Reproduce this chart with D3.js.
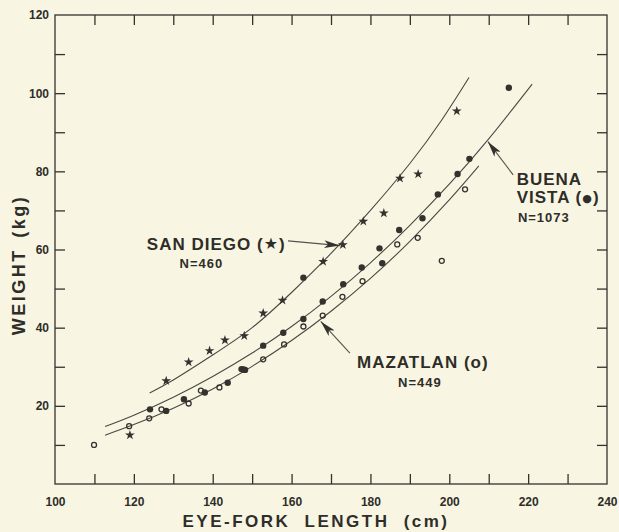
<!DOCTYPE html>
<html>
<head>
<meta charset="utf-8">
<script src="https://cdn.jsdelivr.net/npm/d3@7"></script>
<style>
  body { margin: 0; background: #f8f6e3; }
  svg { display: block; }
  text { font-family: "Liberation Sans", Arial, sans-serif; font-weight: bold; fill: #2f2d29; }
</style>
</head>
<body>
<div id="chart"></div>
<script>
// San Diego (stars)
const sdLength = [119.0, 128.2, 133.9, 139.2, 143.1, 148.0, 152.8, 157.7, 168.0, 173.0, 178.2, 183.4, 187.5, 192.1, 201.9];
const sdWeight = [12.5, 26.4, 31.2, 34.1, 36.8, 37.9, 43.7, 47.0, 56.9, 61.2, 67.2, 69.3, 78.2, 79.3, 95.4];

// Buena Vista (filled circles)
const bvLength = [124.1, 128.2, 132.7, 138.0, 143.8, 147.3, 148.2, 152.8, 157.9, 163.0, 163.0, 167.9, 173.1, 177.8, 182.3, 183.0, 187.3, 193.2, 197.1, 202.1, 205.1, 215.1];
const bvWeight = [19.1, 18.7, 21.7, 23.4, 25.9, 29.4, 29.2, 35.4, 38.7, 42.2, 52.8, 46.7, 51.1, 55.4, 60.3, 56.5, 65.0, 68.0, 74.1, 79.3, 83.2, 101.4];

// Mazatlan (open circles)
const mzLength = [109.9, 118.8, 123.9, 127.0, 133.9, 137.0, 141.7, 147.8, 152.8, 158.1, 163.0, 167.9, 172.9, 178.0, 186.8, 192.0, 198.1, 204.0];
const mzWeight = [10.0, 14.8, 16.8, 19.1, 20.6, 23.9, 24.7, 29.3, 31.9, 35.7, 40.3, 43.1, 47.9, 51.9, 61.3, 63.0, 57.1, 75.4];

// fitted curves
const sdCurveL = [124, 130, 140, 150, 160, 170, 180, 190, 198, 205];
const sdCurveW = [23.3, 26.6, 33.0, 40.0, 49.0, 59.0, 70.0, 82.0, 93.0, 104.0];
const bvCurveL = [112.7, 120, 130, 140, 150, 160, 170, 180, 190, 200, 210, 221];
const bvCurveW = [14.7, 17.6, 22.2, 27.5, 33.5, 40.3, 48.0, 56.6, 66.2, 76.7, 88.3, 102.3];
const mzCurveL = [112.7, 120, 130, 140, 150, 160, 170, 180, 190, 200, 207.5];
const mzCurveW = [12.5, 15.2, 19.4, 24.3, 30.1, 36.7, 44.2, 52.6, 62.1, 72.7, 81.4];

const xTickLabels = [100, 120, 140, 160, 180, 200, 220, 240];
const yTickLabels = [20, 40, 60, 80, 100, 120];

const W = 619, H = 532;
const ink = "#34322e";

const svg = d3.select("#chart").append("svg")
    .attr("width", W)
    .attr("height", H);

svg.append("rect").attr("width", W).attr("height", H).attr("fill", "#f8f6e3");

const x = d3.scaleLinear().domain([100, 240]).range([55, 607]);
const y = d3.scaleLinear().domain([0, 120]).range([484, 15]);

// frame
svg.append("rect")
    .attr("x", x(100)).attr("y", y(120))
    .attr("width", x(240) - x(100)).attr("height", y(0) - y(120))
    .attr("fill", "none").attr("stroke", ink).attr("stroke-width", 1.3);

// inward ticks on four sides
const xt = d3.range(110, 240, 10), yt = d3.range(10, 120, 10);
function ticks(axis, tr) {
    const g = svg.append("g").attr("transform", tr).call(axis);
    g.select(".domain").remove();
    g.selectAll("line").attr("stroke", ink).attr("stroke-width", 1.3);
    g.selectAll("text").remove();
}
ticks(d3.axisBottom(x).tickValues(xt).tickSize(-10), `translate(0,${y(0)})`);
ticks(d3.axisTop(x).tickValues(xt).tickSize(-10), `translate(0,${y(120)})`);
ticks(d3.axisLeft(y).tickValues(yt).tickSize(-10), `translate(${x(100)},0)`);
ticks(d3.axisRight(y).tickValues(yt).tickSize(-10), `translate(${x(240)},0)`);

// tick labels
const xLab = svg.append("g").attr("transform", `translate(0,${y(0)})`)
    .call(d3.axisBottom(x).tickValues(xTickLabels).tickSize(0).tickPadding(13));
xLab.select(".domain").remove();
xLab.selectAll("text").attr("font-size", 12).attr("fill", ink)
    .style("font-family", "'Liberation Sans', Arial, sans-serif").style("font-weight", "bold");

const yLab = svg.append("g").attr("transform", `translate(${x(100)},0)`)
    .call(d3.axisLeft(y).tickValues(yTickLabels).tickSize(0).tickPadding(6));
yLab.select(".domain").remove();
yLab.selectAll("text").attr("font-size", 12).attr("fill", ink)
    .style("font-family", "'Liberation Sans', Arial, sans-serif").style("font-weight", "bold");

// axis titles
svg.append("text")
    .attr("x", 316).attr("y", 527)
    .attr("text-anchor", "middle")
    .attr("font-size", 17)
    .attr("letter-spacing", 2.5)
    .attr("word-spacing", 7)
    .text("EYE-FORK LENGTH (cm)");

svg.append("text")
    .attr("transform", "translate(25,265) rotate(-90)")
    .attr("text-anchor", "middle")
    .attr("font-size", 18)
    .attr("letter-spacing", 2.5)
    .attr("word-spacing", 3)
    .text("WEIGHT (kg)");

// curves
const line = d3.line().x(d => x(d[0])).y(d => y(d[1])).curve(d3.curveNatural);
const curves = [
    d3.zip(sdCurveL, sdCurveW),
    d3.zip(bvCurveL, bvCurveW),
    d3.zip(mzCurveL, mzCurveW)
];
svg.append("g").selectAll("path").data(curves).join("path")
    .attr("d", line)
    .attr("fill", "none")
    .attr("stroke", "#4a4843")
    .attr("stroke-width", 1.1);

// points
svg.append("g").selectAll("path").data(d3.zip(sdLength, sdWeight)).join("path")
    .attr("transform", d => `translate(${x(d[0])},${y(d[1])})`)
    .attr("d", d3.symbol(d3.symbolStar, 30))
    .attr("fill", ink);

svg.append("g").selectAll("circle").data(d3.zip(bvLength, bvWeight)).join("circle")
    .attr("cx", d => x(d[0])).attr("cy", d => y(d[1]))
    .attr("r", 3.2)
    .attr("fill", ink);

svg.append("g").selectAll("circle").data(d3.zip(mzLength, mzWeight)).join("circle")
    .attr("cx", d => x(d[0])).attr("cy", d => y(d[1]))
    .attr("r", 2.5)
    .attr("fill", "none")
    .attr("stroke", ink)
    .attr("stroke-width", 1.3);

// arrows
svg.append("defs").append("marker")
    .attr("id", "head")
    .attr("markerUnits", "userSpaceOnUse")
    .attr("viewBox", "0 0 16 8")
    .attr("markerWidth", 16).attr("markerHeight", 8)
    .attr("refX", 16).attr("refY", 4)
    .attr("orient", "auto")
    .append("path")
    .attr("d", "M0,0 L16,4 L0,8 L4,4 Z")
    .attr("fill", ink);

const arrows = [
    [[159.1, 62.2], [172.3, 61.0]],
    [[216.2, 79.1], [209.8, 87.6]],
    [[174.8, 33.5], [167.4, 41.6]]
];
svg.append("g").selectAll("line").data(arrows).join("line")
    .attr("x1", d => x(d[0][0])).attr("y1", d => y(d[0][1]))
    .attr("x2", d => x(d[1][0])).attr("y2", d => y(d[1][1]))
    .attr("stroke", "#55534e")
    .attr("stroke-width", 1.1)
    .attr("marker-end", "url(#head)");

// labels: [text, small symbol in parentheses, after]
const labels = [
    {t: "SAN DIEGO (", sym: "★", ss: 16, end: ")", L: 123.3, Wt: 59.9, s: 17},
    {t: "N=460", L: 131.6, Wt: 55.3, s: 13},
    {t: "BUENA", L: 217.1, Wt: 76.5, s: 17},
    {t: "VISTA (", sym: "●", ss: 11, end: ")", L: 217.1, Wt: 71.9, s: 17},
    {t: "N=1073", L: 217.4, Wt: 67.0, s: 13},
    {t: "MAZATLAN (o)", L: 176.6, Wt: 29.7, s: 17},
    {t: "N=449", L: 187.0, Wt: 24.8, s: 13}
];
const lab = svg.append("g").selectAll("text").data(labels).join("text")
    .attr("x", d => x(d.L)).attr("y", d => y(d.Wt))
    .attr("font-size", d => d.s)
    .attr("letter-spacing", 1);
lab.append("tspan").text(d => d.t);
lab.filter(d => d.sym).append("tspan")
    .attr("font-size", d => d.ss).attr("dy", -1)
    .style("font-family", "'DejaVu Sans', sans-serif")
    .text(d => d.sym);
lab.filter(d => d.sym).append("tspan")
    .attr("dy", 1)
    .text(d => d.end);
</script>
</body>
</html>
